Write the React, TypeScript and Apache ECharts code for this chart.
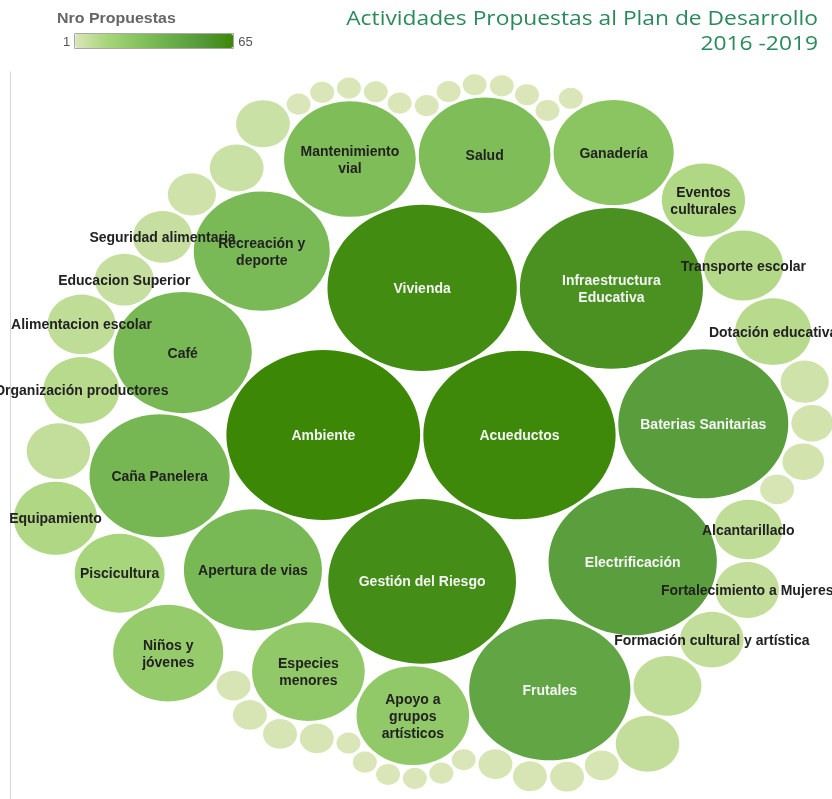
import React, { useEffect, useRef } from "react";
import * as echarts from "echarts";

// ---- Data (listed in the packing order of the bubbles; "" = bubble without a label) ----
const categories = [
  "Ambiente", "Acueductos", "Gestión del Riesgo", "Vivienda", "Infraestructura\nEducativa",
  "Baterias Sanitarias", "Electrificación", "Frutales", "Apoyo a\ngrupos\nartísticos", "Especies\nmenores",
  "Apertura de vias", "Caña Panelera", "Café", "Recreación y\ndeporte", "Mantenimiento\nvial",
  "Salud", "Ganadería", "Eventos\nculturales", "Transporte escolar", "Dotación educativa",
  "", "", "", "",
  "Alcantarillado", "Fortalecimiento a Mujeres", "Formación cultural y artística",
  "", "",
  "", "", "", "",
  "", "", "", "", "", "",
  "", "", "", "",
  "Niños y\njóvenes", "Piscicultura", "Equipamiento",
  "",
  "Organización productores", "Alimentacion escolar", "Educacion Superior", "Seguridad alimentaria",
  "", "", "",
  "", "", "", "", "", "", "", "", "", "", "", "",
];
const proposals = [
  65, 64, 61, 62, 58,
  50, 49, 45, 22, 22,
  33, 34, 33, 32, 30,
  30, 25, 12, 11, 10,
  4, 3, 3, 2,
  8, 7, 7,
  8, 7,
  2, 2, 2, 2,
  1, 1, 1, 1, 1, 1,
  2, 2, 2, 2,
  21, 14, 12,
  7,
  10, 8, 6, 6,
  4, 5, 5,
  1, 1, 1, 1, 1, 1, 1, 1, 1, 1, 1, 1,
];
const legendTitle = "Nro Propuestas";
const legendRange = [1, 65];
const titleLines = ["Actividades Propuestas al Plan de Desarrollo", "2016 -2019"];

const FONT = '"Liberation Sans", Arial, sans-serif';
const STRETCH = 1.14; // the original picture is wider than tall

// ---- spiral front-chain circle packing ----
type Circ = { x: number; y: number; r: number };
type Node = { c: Circ; next: Node | null; prev: Node | null };

function place(b: Circ, a: Circ, c: Circ) {
  const dx = b.x - a.x, dy = b.y - a.y, d2 = dx * dx + dy * dy;
  if (d2) {
    let a2 = a.r + c.r; a2 *= a2;
    let b2 = b.r + c.r; b2 *= b2;
    if (a2 > b2) {
      const x = (d2 + b2 - a2) / (2 * d2);
      const y = Math.sqrt(Math.max(0, b2 / d2 - x * x));
      c.x = b.x - x * dx - y * dy;
      c.y = b.y - x * dy + y * dx;
    } else {
      const x = (d2 + a2 - b2) / (2 * d2);
      const y = Math.sqrt(Math.max(0, a2 / d2 - x * x));
      c.x = a.x + x * dx - y * dy;
      c.y = a.y + x * dy + y * dx;
    }
  } else {
    c.x = a.x + c.r;
    c.y = a.y;
  }
}
function intersects(a: Circ, b: Circ) {
  const dr = a.r + b.r - 1e-6, dx = b.x - a.x, dy = b.y - a.y;
  return dr > 0 && dr * dr > dx * dx + dy * dy;
}
function packSpiral(circles: Circ[]) {
  const n = circles.length;
  if (!n) return;
  const c0 = circles[0];
  c0.x = 0; c0.y = 0;
  if (n < 2) return;
  const c1 = circles[1];
  c0.x = -c1.r; c1.x = c0.r; c1.y = 0;
  if (n < 3) return;
  place(c1, c0, circles[2]);
  let a: Node = { c: c0, next: null, prev: null };
  let b: Node = { c: c1, next: null, prev: null };
  let c: Node = { c: circles[2], next: null, prev: null };
  a.next = c.prev = b;
  b.next = a.prev = c;
  c.next = b.prev = a;
  let guard = 0;
  pack: for (let i = 3; i < n; ++i) {
    if (++guard > 100000) break;
    place(a.c, b.c, circles[i]);
    c = { c: circles[i], next: null, prev: null };
    let j = b.next!, k = a.prev!, sj = b.c.r, sk = a.c.r;
    do {
      if (sj <= sk) {
        if (intersects(j.c, c.c)) {
          b = j; a.next = b; b.prev = a; --i;
          continue pack;
        }
        sj += j.c.r; j = j.next!;
      } else {
        if (intersects(k.c, c.c)) {
          a = k; a.next = b; b.prev = a; --i;
          continue pack;
        }
        sk += k.c.r; k = k.prev!;
      }
    } while (j !== k.next);
    c.prev = a; c.next = b; a.next = b.prev = c;
    a = c; // advance along the spiral
  }
}

export default function App() {
  const ref = useRef<HTMLDivElement>(null);
  useEffect(() => {
    const el = ref.current!;
    const chart = echarts.init(el, undefined, { renderer: "svg" });

    const PAD = 0.13;
    const circles: Circ[] = proposals.map((v) => ({ x: 0, y: 0, r: Math.sqrt(v) + PAD }));
    packSpiral(circles);

    const gridLeft = 10, gridTop = 72, gridW = 822, gridH = 799 - 72;
    const originX = 421, originY = 435; // where the two first bubbles touch
    const ky = 85 / Math.sqrt(65);
    const kx = ky * STRETCH;

    const data = proposals.map((v, idx) => {
      const c = circles[idx];
      const name = categories[idx];
      return {
        name,
        value: [c.x, c.y, v, Math.sqrt(v)],
        label: {
          show: name !== "",
          color: v >= 40 ? "#f4f4f4" : "#222",
        },
      };
    });

    chart.setOption({
      animation: false,
      graphic: [
        {
          type: "text",
          x: 818,
          y: 7,
          scaleX: STRETCH,
          style: {
            text: titleLines[0],
            align: "right",
            verticalAlign: "top",
            fill: "#2a8a5c",
            font: '20px "Open Sans", sans-serif',
          },
        },
        {
          type: "text",
          x: 818,
          y: 32,
          scaleX: STRETCH,
          style: {
            text: titleLines[1],
            align: "right",
            verticalAlign: "top",
            fill: "#2a8a5c",
            font: '20px "Open Sans", sans-serif',
          },
        },
        {
          type: "text",
          x: 57,
          y: 11,
          scaleX: STRETCH,
          style: {
            text: legendTitle,
            align: "left",
            verticalAlign: "top",
            fill: "#666",
            font: 'bold 14px "Liberation Sans", Arial, sans-serif',
          },
        },
        {
          type: "rect",
          shape: { x: 74.5, y: 33.5, width: 159, height: 15 },
          style: { fill: "none", stroke: "#a9a9a9", lineWidth: 1 },
          z: 100,
        },
      ],
      visualMap: {
        type: "continuous",
        min: legendRange[0],
        max: legendRange[1],
        dimension: 2,
        seriesIndex: 0,
        orient: "horizontal",
        left: 48,
        top: 19,
        itemWidth: 14,
        itemHeight: 158,
        text: [String(legendRange[1]), String(legendRange[0])],
        textGap: 5,
        calculable: false,
        hoverLink: false,
        textStyle: { color: "#555", fontFamily: FONT, fontSize: 13 },
        inRange: { color: ["#dae6b8", "#a8d57b", "#86c35e", "#6aae4b", "#55993a", "#3c8806"] },
      },
      grid: { left: gridLeft, top: gridTop, width: gridW, height: gridH },
      xAxis: {
        type: "value",
        show: false,
        min: -(originX - gridLeft) / kx,
        max: (gridLeft + gridW - originX) / kx,
        splitLine: { show: false },
      },
      yAxis: {
        type: "value",
        inverse: true,
        min: -(originY - gridTop) / ky,
        max: (gridTop + gridH - originY) / ky,
        axisLine: { show: true, onZero: false, lineStyle: { color: "#d6d6d6", width: 1 } },
        axisTick: { show: false },
        axisLabel: { show: false },
        splitLine: { show: false },
      },
      series: [
        {
          type: "scatter",
          data,
          clip: false,
          symbol: "circle",
          symbolSize: (val: number[]) => [2 * val[3] * kx, 2 * val[3] * ky],
          itemStyle: { opacity: 1 },
          label: {
            show: false,
            position: "inside",
            formatter: "{b}",
            fontFamily: FONT,
            fontWeight: "bold",
            fontSize: 14,
            lineHeight: 17,
            align: "center",
          },
          emphasis: { disabled: true },
        },
      ],
    });
    return () => chart.dispose();
  }, []);
  return <div ref={ref} style={{ position: "fixed", left: 0, top: 0, width: 832, height: 799 }} />;
}
